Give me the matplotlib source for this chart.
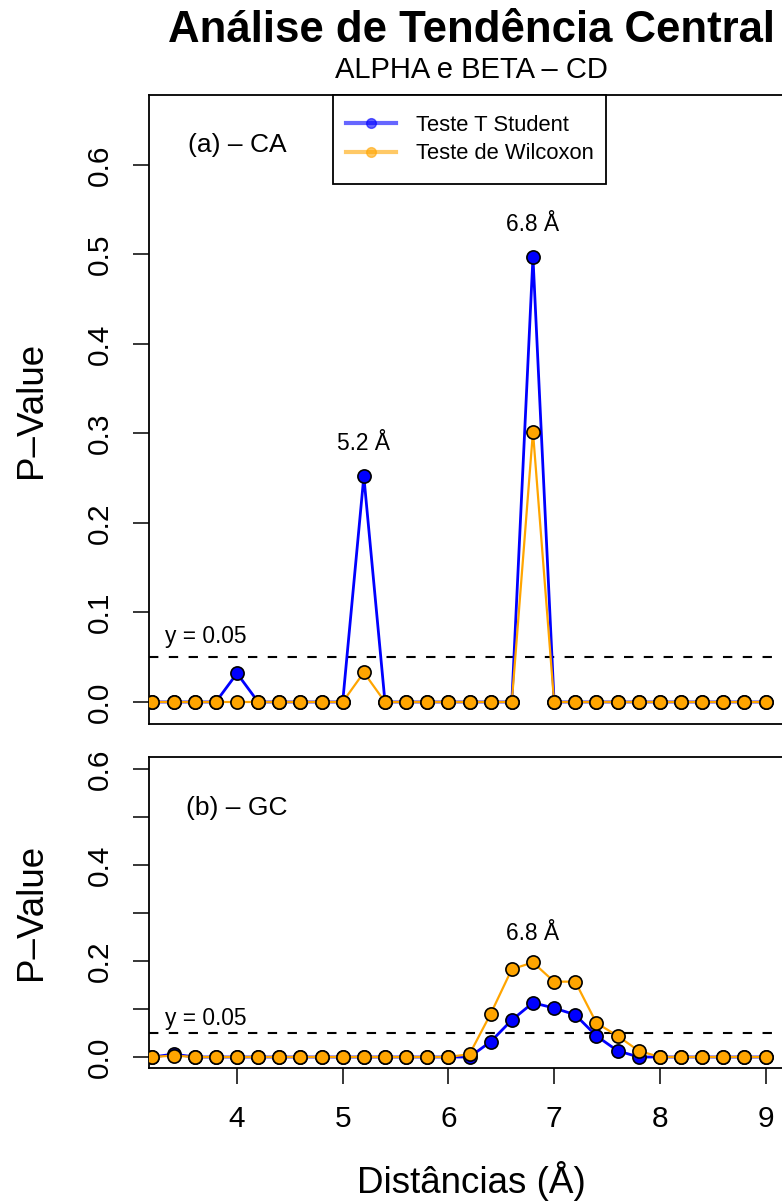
import numpy as np
import matplotlib
matplotlib.use('Agg')
import matplotlib.pyplot as plt
from matplotlib.lines import Line2D
from matplotlib.patches import Rectangle

plt.rcParams['font.family'] = ['Liberation Sans', 'DejaVu Sans']

# distancias (angstrom)
dist = [3.2, 3.4, 3.6, 3.8, 4.0, 4.2, 4.4, 4.6, 4.8, 5.0,
        5.2, 5.4, 5.6, 5.8, 6.0, 6.2, 6.4, 6.6, 6.8, 7.0,
        7.2, 7.4, 7.6, 7.8, 8.0, 8.2, 8.4, 8.6, 8.8, 9.0]

# (a) CA
t_ca = [0, 0, 0, 0, 0.032, 0, 0, 0, 0, 0,
        0.252, 0, 0, 0, 0, 0, 0, 0, 0.497, 0,
        0, 0, 0, 0, 0, 0, 0, 0, 0, 0]
w_ca = [0, 0, 0, 0, 0, 0, 0, 0, 0, 0,
        0.033, 0, 0, 0, 0, 0, 0, 0, 0.302, 0,
        0, 0, 0, 0, 0, 0, 0, 0, 0, 0]

# (b) GC
t_gc = [0, 0.006, 0, 0, 0, 0, 0, 0, 0, 0,
        0, 0, 0, 0, 0, 0, 0.032, 0.077, 0.113, 0.102,
        0.088, 0.044, 0.013, 0, 0, 0, 0, 0, 0, 0]
w_gc = [0, 0.003, 0, 0, 0, 0, 0, 0, 0, 0,
        0, 0, 0, 0, 0, 0.006, 0.090, 0.183, 0.197, 0.157,
        0.157, 0.071, 0.044, 0.013, 0, 0, 0, 0, 0, 0]

blue = '#0000FF'
orange = '#FFA500'
W, H = 782, 1203

fig = plt.figure(figsize=(W / 100, H / 100), dpi=100)


def px_axes(left, top, right, bottom):
    return fig.add_axes([left / W, 1 - bottom / H, (right - left) / W, (bottom - top) / H])


ax1 = px_axes(149, 95, 800, 724)
ax2 = px_axes(149, 757, 800, 1068)

x0 = 4 - 88 / 105.7
x1 = 4 + (800 - 237) / 105.7


def draw(ax, t, w):
    ax.plot(dist, t, '-o', color=blue, lw=2, ms=9.5, mfc=blue, mec='black', mew=1.2, zorder=3)
    ax.plot(dist, w, '-o', color=orange, lw=1.6, ms=9.5, mfc=orange, mec='black', mew=1.2, zorder=4)
    ax.axhline(0.05, color='black', lw=1.5, ls=(0, (4.5, 5)), zorder=2)
    ax.set_xlim(x0, x1)
    for s in ax.spines.values():
        s.set_linewidth(1.3)
    ax.tick_params(axis='y', labelrotation=90, labelsize=21.5, length=11.5, width=1.1, pad=14)


draw(ax1, t_ca, w_ca)
ax1.set_ylim(-0.0246, 0.678)
ax1.set_yticks(np.arange(0, 0.61, 0.1))
ax1.set_yticklabels(['0.0', '0.1', '0.2', '0.3', '0.4', '0.5', '0.6'], va='center')
ax1.set_xticks([])
ax1.text(5.2, 0.252 + 0.037, '5.2 Å', ha='center', va='center', fontsize=16.4)
ax1.text(6.8, 0.497 + 0.036, '6.8 Å', ha='center', va='center', fontsize=16.4)
ax1.text(3.7, 0.0726, 'y = 0.05', ha='center', va='center', fontsize=16.4)
ax1.text(4.0, 0.622, '(a) – CA', ha='center', va='center', fontsize=19)

draw(ax2, t_gc, w_gc)
ax2.set_ylim(-0.0229, 0.625)
ax2.set_yticks(np.arange(0, 0.61, 0.1))
ax2.set_yticklabels(['0.0', '', '0.2', '', '0.4', '', '0.6'], va='center')
ax2.set_xticks([4, 5, 6, 7, 8, 9])
ax2.tick_params(axis='x', labelsize=21.5, length=11.5, width=1.1, pad=15)
ax2.text(6.8, 0.197 + 0.06, '6.8 Å', ha='center', va='center', fontsize=16.4)
ax2.text(3.7, 0.081, 'y = 0.05', ha='center', va='center', fontsize=16.4)
ax2.text(4.0, 0.519, '(b) – GC', ha='center', va='center', fontsize=19)

# caixa da legenda (estilo R)
box = Rectangle((333 / W, 1 - 184 / H), (606 - 333) / W, (184 - 95) / H,
                transform=fig.transFigure, facecolor='white', edgecolor='black',
                lw=1.3, zorder=5, clip_on=False)
ax1.add_patch(box)

handles = [Line2D([], [], color=blue, lw=3, alpha=0.6, marker='o', ms=7, mfc=blue, mec=blue),
           Line2D([], [], color=orange, lw=3, alpha=0.6, marker='o', ms=7, mfc=orange, mec=orange)]
leg = ax1.legend(handles, ['Teste T Student', 'Teste de Wilcoxon'], loc='center',
                 bbox_to_anchor=((333 + 606) / 2 / W, 1 - 139.5 / H), bbox_transform=fig.transFigure,
                 borderaxespad=0, fontsize=15.8, handlelength=2.3, handletextpad=0.9,
                 labelspacing=0.35, borderpad=0.3, frameon=False)
leg.set_zorder(6)

fig.text(471 / W, 1 - 31 / H, 'Análise de Tendência Central', ha='center', va='center',
         fontsize=31.5, fontweight='bold')
fig.text(471 / W, 1 - 70 / H, 'ALPHA e BETA – CD', ha='center', va='center', fontsize=21)
fig.text(32 / W, 1 - 410 / H, 'P–Value', rotation=90, ha='center', va='center', fontsize=26.5)
fig.text(32 / W, 1 - 912 / H, 'P–Value', rotation=90, ha='center', va='center', fontsize=26.5)
fig.text(471 / W, 1 - 1181 / H, 'Distâncias (Å)', ha='center', va='center', fontsize=26.5)

fig.savefig('out.png', dpi=100)
